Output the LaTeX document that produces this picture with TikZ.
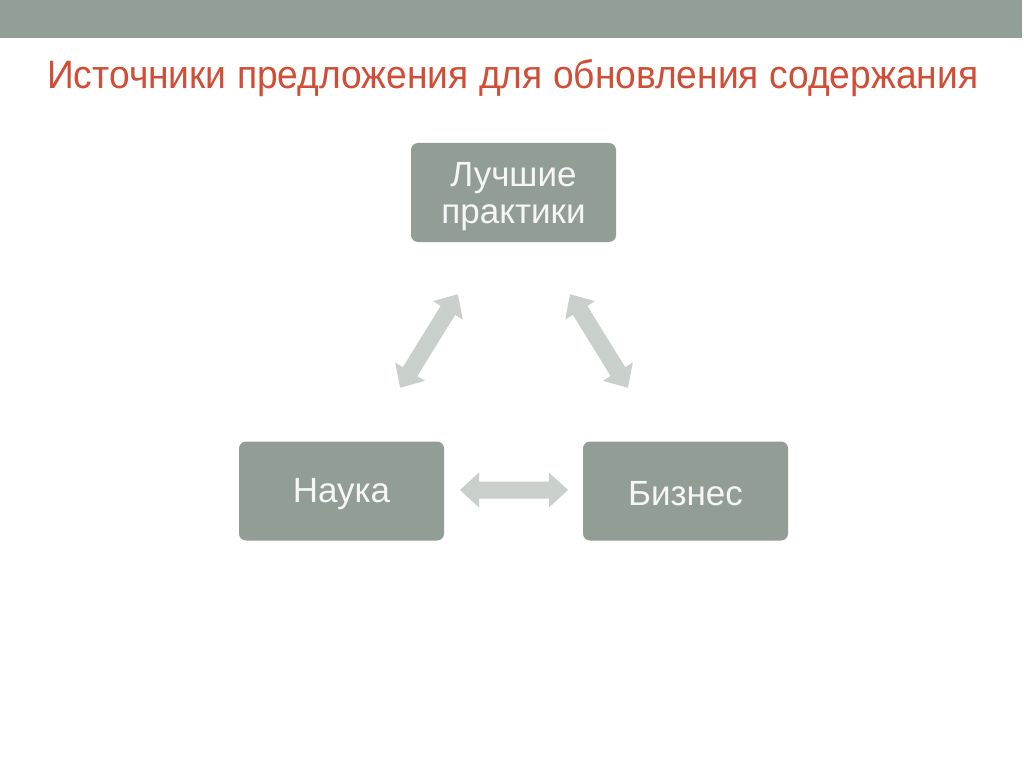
\documentclass[tikz,border=0pt]{standalone}
\usepackage{fontspec}
\setmainfont{Liberation Sans}
\definecolor{bar}{RGB}{146,159,150}
\definecolor{boxfill}{RGB}{146,158,149}
\definecolor{arrowc}{RGB}{201,207,203}
\definecolor{titlec}{RGB}{208,78,54}
\definecolor{boxtext}{RGB}{246,246,246}
\tikzset{
  x=1pt, y=1pt,
  srcbox/.style={draw=none, fill=boxfill, rounded corners=7pt, minimum width=205pt, minimum height=99pt, inner sep=0pt},
  boxlabel/.style={text=boxtext, font=\fontsize{35}{37.5}\selectfont, align=center, inner sep=0pt},
  fatarrow/.style={fill=arrowc, draw=none},
}
\newcommand{\fatdbl}[1]{% #1 = half length
  (-#1,0) -- (-#1+19,17.5) -- (-#1+19,8.5) -- (#1-19,8.5) -- (#1-19,17.5) -- (#1,0)
  -- (#1-19,-17.5) -- (#1-19,-8.5) -- (-#1+19,-8.5) -- (-#1+19,-17.5) -- cycle}
\begin{document}
\begin{tikzpicture}
\useasboundingbox (0,0) rectangle (1024,-767);
\fill[white] (0,0) rectangle (1024,-767);
\fill[bar] (0,0) rectangle (1022,-38);
\node[anchor=base west, text=titlec, font=\fontsize{36}{40}\selectfont, inner sep=0pt] (title) at (47,-89)
  {\scalebox{1.033}[1.1]{Источники предложения для обновления содержания}};
\node[srcbox] (best) at (513.5,-192.5) {};
\node[srcbox] (sci) at (341.5,-491) {};
\node[srcbox] (bus) at (685.5,-491) {};
\node[boxlabel] (bestt) at ([yshift=-4pt]best.center) {Лучшие\\практики};
\node[boxlabel] (scit) at ([yshift=-3pt]sci.center) {Наука};
\node[boxlabel] (bust) at ([yshift=-3pt]bus.center) {Бизнес};
\coordinate (a1) at (429,-341);
\coordinate (a2) at (599,-341);
\coordinate (a3) at (514,-490);
\begin{scope}[shift={(a1)}, rotate=58.3]
  \fill[fatarrow] \fatdbl{55};
\end{scope}
\begin{scope}[shift={(a2)}, rotate=-58.3]
  \fill[fatarrow] \fatdbl{55};
\end{scope}
\begin{scope}[shift={(a3)}]
  \fill[fatarrow] \fatdbl{54};
\end{scope}
\end{tikzpicture}
\end{document}
